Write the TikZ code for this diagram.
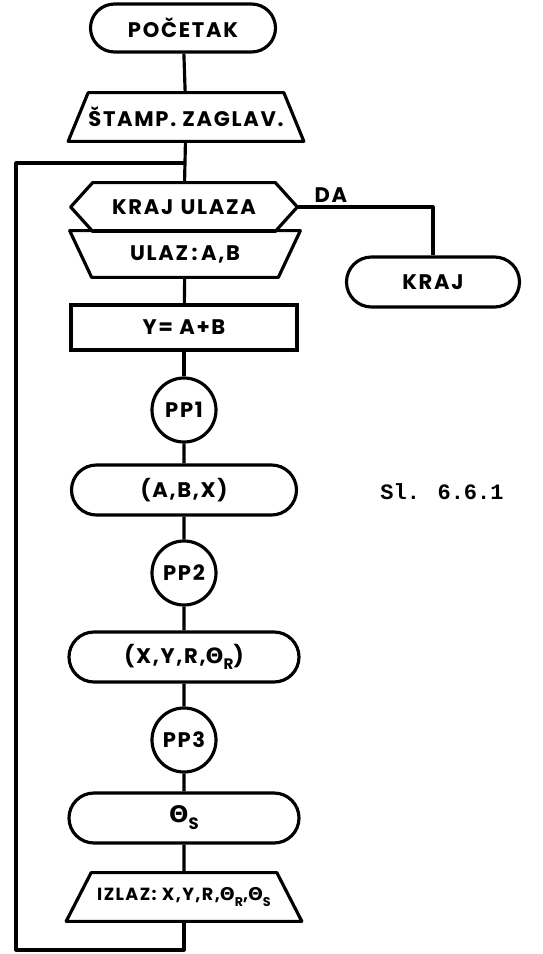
\documentclass[tikz,border=0pt]{standalone}
\usepackage{fontspec}
\setmainfont{Poppins}[LetterSpace=8]
\newfontfamily\grk{DejaVu Sans}
\newfontfamily\capfont{Liberation Mono}
\usetikzlibrary{positioning, calc, shapes.misc}

% outlines drawn round plain nodes
\newcommand{\trapout}[3]{%
  \draw[line] ($(#1.north west)+(#2,0)$) -- ($(#1.north east)-(#2,0)$)
    -- ($(#1.south east)-(#3,0)$) -- ($(#1.south west)+(#3,0)$) -- cycle;}
\newcommand{\hexout}[2]{%
  \draw[line] ($(#1.north west)+(#2,0)$) -- ($(#1.north east)-(#2,0)$)
    -- (#1.east) -- ($(#1.south east)-(#2,0)$) -- ($(#1.south west)+(#2,0)$)
    -- (#1.west) -- cycle;}
\newcommand{\thsub}[1]{{\grk\bfseries Θ}\raisebox{-0.55ex}{\scalebox{0.72}{#1}}}

\begin{document}
\begin{tikzpicture}[
  line/.style={line width=1.8pt, black, line join=round},
  lbl/.style={font=\fontsize{12}{14}\selectfont\bfseries},
  term/.style={rounded rectangle, draw, line width=1.8pt, minimum width=#1,
    minimum height=0.96cm, inner sep=0pt, lbl},
  body/.style={rectangle, minimum width=#1, minimum height=0.96cm,
    inner sep=0pt, lbl},
  procbox/.style={rectangle, draw, line width=1.8pt, minimum width=4.52cm,
    minimum height=0.9cm, inner sep=0pt, lbl},
  conn/.style={circle, draw, line width=1.8pt, minimum size=1.28cm,
    inner sep=0pt, lbl},
]

% Background
\useasboundingbox (0,0) rectangle (10.84,-19.08);
\fill[white] (0,0) rectangle (10.84,-19.08);

% ---- Main column ----
\node[term=3.7cm] (start) at (3.66,-0.56) {POČETAK};

\node[body=4.7cm] (head) at (3.72,-2.34) {ŠTAMP. ZAGLAV.};
\trapout{head}{0.4}{0}

\coordinate (join) at (3.68,-3.26);

\node[body=4.52cm] (test) at (3.68,-4.14) {KRAJ\hspace{0.35em}ULAZA};
\hexout{test}{0.44}

\node[body=4.6cm, minimum height=0.92cm] (input) at (3.7,-5.08) {ULAZ\,:\,A,B};
\trapout{input}{0}{0.44}

\node[procbox] (sum) at (3.68,-6.55) {Y= A+B};

\node[conn] (pp1) at (3.68,-8.2) {PP1};
\node[term=4.5cm, minimum height=1cm] (call1) at (3.68,-9.8) {(A,B,X)};

\node[conn] (pp2) at (3.68,-11.46) {PP2};
\node[term=4.6cm, minimum height=1cm] (call2) at (3.68,-13.14) {(X,Y,R,\thsub{R})};

\node[conn] (pp3) at (3.68,-14.8) {PP3};
\node[term=4.6cm, minimum height=1cm] (call3) at (3.68,-16.36)
  {\fontsize{13}{15}\selectfont\thsub{S}};

\node[body=4.7cm, font=\fontsize{10}{12}\selectfont\bfseries] (output) at (3.68,-17.94)
  {IZLAZ: X,Y,R,\thsub{R},\thsub{S}};
\trapout{output}{0.5}{0}

% ---- Exit branch ----
\node[term=3.46cm, minimum height=1cm] (stop) at (8.66,-5.64) {KRAJ};
\node[lbl] (yes) at (6.62,-3.9) {DA};

% ---- Caption ----
\node[font=\capfont\bfseries\fontsize{12.5}{14}\selectfont] (caption) at (8.84,-9.84) {Sl. 6.6.1};

% ---- Connectors ----
\draw[line] (start) -- (head);
\draw[line] (head) -- (test);
\draw[line] (input) -- (sum);
\draw[line] (sum) -- (pp1);
\draw[line] (pp1) -- (call1);
\draw[line] (call1) -- (pp2);
\draw[line] (pp2) -- (call2);
\draw[line] (call2) -- (pp3);
\draw[line] (pp3) -- (call3);
\draw[line] (call3) -- (output);
\draw[line] (test.east) -| (stop);

% loop back
\coordinate (bot) at (3.68,-19.0);
\coordinate (lft) at (0.32,-19.0);
\draw[line] (output) -- (bot) -- (lft) |- (join);

\end{tikzpicture}
\end{document}
